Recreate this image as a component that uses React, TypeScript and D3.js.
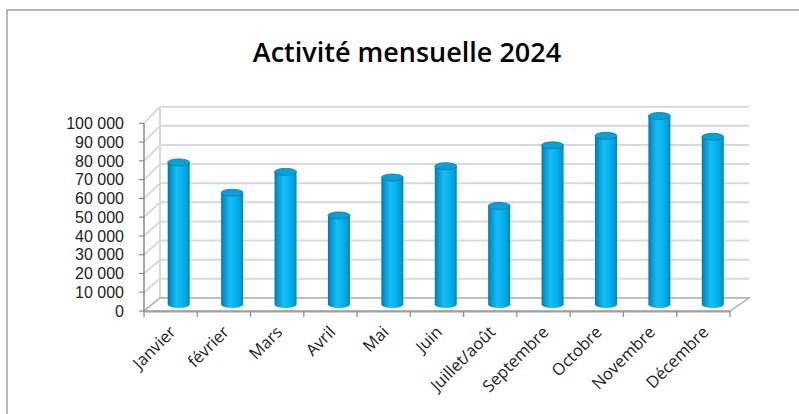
import React from 'react';
import * as d3 from 'd3';

// monthly values
const months: string[] = ['Janvier', 'février', 'Mars', 'Avril', 'Mai', 'Juin', 'Juillet/août', 'Septembre', 'Octobre', 'Novembre', 'Décembre'];
const activity: number[] = [75000, 59000, 70000, 47000, 67000, 73000, 52000, 84000, 89000, 99500, 88500];
const yTicks: number[] = d3.range(0, 100001, 10000);

const W = 799;
const H = 414;

// front face and back wall of the 3d box
let xFront = d3.scaleBand<string>().domain(months).range([144, 730]);
let xBack = d3.scaleBand<string>().domain(months).range([160, 749]);
let yFront = d3.scaleLinear().domain([0, 100000]).range([311, 123.3]);
let yBack = d3.scaleLinear().domain([0, 100000]).range([298, 106.7]);
let yMid = d3.scaleLinear().domain([0, 100000]).range([304.5, 115]);

const fmt = (v: number) => d3.format(',')(v).replace(/,/g, ' ');

const barR = 11;
const barRy = 3.5;

export default function App() {
  const cx = (m: string) =>
    ((xFront(m) as number) + xFront.bandwidth() / 2 + (xBack(m) as number) + xBack.bandwidth() / 2) / 2;

  return (
    <svg width={W} height={H} style={{ position: 'absolute', left: 0, top: 0, background: '#fff' }}
      fontFamily="'Open Sans', sans-serif">
      <defs>
        <linearGradient id="cyl" x1="0" x2="1" y1="0" y2="0">
          <stop offset="0" stopColor="#0678a6" />
          <stop offset="0.15" stopColor="#0598d2" />
          <stop offset="0.4" stopColor="#18bdf6" />
          <stop offset="0.65" stopColor="#05b4f0" />
          <stop offset="0.9" stopColor="#049bd5" />
          <stop offset="1" stopColor="#0782b3" />
        </linearGradient>
      </defs>

      <rect x={7} y={10} width={W + 20} height={H + 20} fill="#fff" stroke="#8c8c8c" strokeWidth={1.2} />

      <text x={407} y={62} textAnchor="middle" fontSize={27} fontWeight={600} fill="#000">
        Activité mensuelle 2024
      </text>

      {/* back wall and side wall grid */}
      {yTicks.map(t => (
        <g key={'g' + t}>
          <line x1={160} x2={749} y1={yBack(t)} y2={yBack(t)} stroke="#d9d9d9" strokeWidth={2} />
          <line x1={144} x2={160} y1={yFront(t)} y2={yBack(t)} stroke="#d9d9d9" strokeWidth={2} />
        </g>
      ))}
      <line x1={160} x2={160} y1={yBack(100000)} y2={yBack(0)} stroke="#d9d9d9" strokeWidth={2} />

      {/* floor */}
      <polygon
        points={[[144, yFront(0)], [730, yFront(0)], [749, yBack(0)], [160, yBack(0)]].map(p => p.join(',')).join(' ')}
        fill="#fff" stroke="#b0b0b0" strokeWidth={1.5} />
      <line x1={144} x2={730} y1={yFront(0) + 0.5} y2={yFront(0) + 0.5} stroke="#a0a0a0" strokeWidth={2} />

      {/* y axis */}
      <line x1={144} x2={144} y1={yFront(100000)} y2={yFront(0)} stroke="#8a8a8a" strokeWidth={1.5} />
      {yTicks.map(t => (
        <g key={'t' + t}>
          <line x1={139} x2={144} y1={yFront(t)} y2={yFront(t)} stroke="#8a8a8a" strokeWidth={1.2} />
          <text x={124} y={yFront(t)} dy="0.36em" textAnchor="end" fontSize={16}
            fontFamily="'Liberation Sans', Arial, sans-serif" fill="#222">{fmt(t)}</text>
        </g>
      ))}

      {/* x ticks */}
      {months.concat(['end']).map((m, i) => {
        const x = i < months.length ? (xFront(m) as number) : 730;
        return <line key={'x' + i} x1={x} x2={x} y1={yFront(0)} y2={yFront(0) + 6} stroke="#8a8a8a" strokeWidth={1.2} />;
      })}

      {/* cylinders */}
      {months.map((m, i) => {
        const x = cx(m);
        const yt = yMid(activity[i]);
        const yb = yMid(0);
        return (
          <g key={'b' + m}>
            <ellipse cx={x} cy={yb} rx={barR} ry={barRy} fill="url(#cyl)" />
            <rect x={x - barR} y={yt} width={barR * 2} height={yb - yt} fill="url(#cyl)" />
            <ellipse cx={x} cy={yt} rx={barR} ry={barRy} fill="#0a9fd6" stroke="#067ba9" strokeWidth={0.8} />
          </g>
        );
      })}

      {/* category labels */}
      {months.map(m => {
        const x = (xFront(m) as number) + xFront.bandwidth() / 2 + 2;
        const y = 329;
        return (
          <text key={'l' + m} x={x} y={y} dy="0.35em" textAnchor="end" fontSize={16.5} fill="#222"
            transform={`rotate(-45 ${x} ${y})`}>{m}</text>
        );
      })}
    </svg>
  );
}
